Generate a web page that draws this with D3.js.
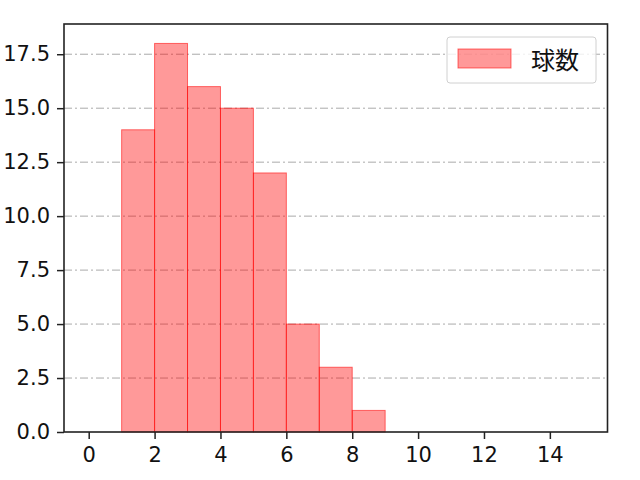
<!DOCTYPE html>
<html lang="ja">
<head>
<meta charset="UTF-8">
<script src="https://d3js.org/d3.v7.min.js"></script>
<style>
  body { margin: 0; background: #fff; }
  text { font-family: "DejaVu Sans", "Noto Sans CJK JP", sans-serif; fill: #111; }
</style>
</head>
<body>
<div id="chart"></div>
<script>
  // histogram bins (left edge, right edge) and counts
  const binStarts = [1, 2, 3, 4, 5, 6, 7, 8];
  const binEnds   = [2, 3, 4, 5, 6, 7, 8, 9];
  const counts    = [14, 18, 16, 15, 12, 5, 3, 1];
  const xTicks = [0, 2, 4, 6, 8, 10, 12, 14];
  const yTicks = [0, 2.5, 5, 7.5, 10, 12.5, 15, 17.5];
  const seriesName = "球数";

  const width = 640, height = 480;
  const mLeft = 64, mRight = 607.5, mTop = 24, mBottom = 432;

  const svg = d3.select("#chart").append("svg")
    .attr("width", width).attr("height", height);

  const x = d3.scaleLinear().domain([-0.75, 15.75]).range([mLeft, mRight]);
  const y = d3.scaleLinear().domain([0, 18.9]).range([mBottom, mTop]);

  // grid
  svg.append("g").selectAll("line")
    .data(yTicks.filter(d => d > 0))
    .enter().append("line")
    .attr("x1", mLeft).attr("x2", mRight)
    .attr("y1", d => y(d)).attr("y2", d => y(d))
    .attr("stroke", "#aaaaaa").attr("stroke-width", 1)
    .attr("stroke-dasharray", "8,3,2,3");

  const bins = binStarts.map((s, i) => ({ x0: s, x1: binEnds[i], n: counts[i] }));

  svg.append("g").selectAll("rect")
    .data(bins)
    .enter().append("rect")
    .attr("x", d => x(d.x0))
    .attr("width", d => x(d.x1) - x(d.x0))
    .attr("y", d => y(d.n))
    .attr("height", d => y(0) - y(d.n))
    .attr("fill", "rgba(255,0,0,0.4)")
    .attr("stroke", "rgba(255,0,0,0.55)")
    .attr("stroke-width", 1);

  // axes
  const xAxis = svg.append("g")
    .attr("transform", `translate(0,${mBottom})`)
    .call(d3.axisBottom(x).tickValues(xTicks).tickSize(7).tickPadding(8).tickFormat(d3.format("d")));
  const yAxis = svg.append("g")
    .attr("transform", `translate(${mLeft},0)`)
    .call(d3.axisLeft(y).tickValues(yTicks).tickSize(7).tickPadding(7).tickFormat(d3.format(".1f")));

  [xAxis, yAxis].forEach(g => {
    g.select(".domain").remove();
    g.selectAll(".tick line").attr("stroke", "#222").attr("stroke-width", 1.5);
    g.selectAll(".tick text").style("font-size", "21px").attr("fill", "#111");
  });

  // frame
  svg.append("rect")
    .attr("x", mLeft).attr("y", mTop)
    .attr("width", mRight - mLeft).attr("height", mBottom - mTop)
    .attr("fill", "none").attr("stroke", "#222").attr("stroke-width", 1.6);

  // legend
  const lg = svg.append("g");
  lg.append("rect")
    .attr("x", 447).attr("y", 37).attr("width", 149).attr("height", 46)
    .attr("rx", 3).attr("fill", "#fff").attr("fill-opacity", 0.8)
    .attr("stroke", "#d0d0d0");
  lg.append("rect")
    .attr("x", 458).attr("y", 49).attr("width", 53).attr("height", 19)
    .attr("fill", "rgba(255,0,0,0.4)")
    .attr("stroke", "rgba(255,0,0,0.55)");
  lg.append("text")
    .attr("x", 531).attr("y", 60).attr("dy", "0.36em")
    .style("font-family", "'Noto Sans CJK JP', sans-serif")
    .style("font-size", "24px").text(seriesName);
</script>
</body>
</html>
